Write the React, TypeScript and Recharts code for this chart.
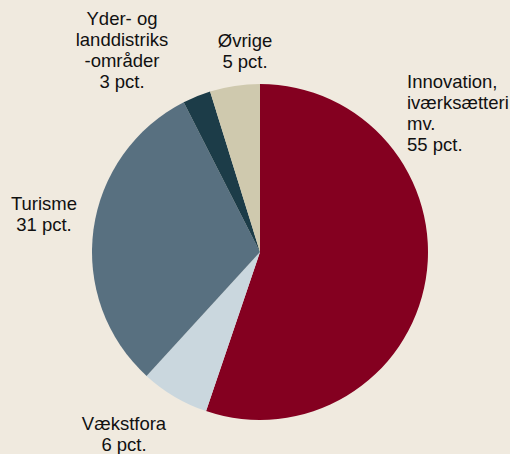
import React from "react";
import { PieChart, Pie, Cell } from "recharts";

const categories = [
  "Innovation, iværksætteri mv.",
  "Vækstfora",
  "Turisme",
  "Yder- og landdistriksområder",
  "Øvrige",
];
const shares = [55.2, 6.6, 30.7, 2.7, 4.8];
const labelLines: string[][] = [
  ["Innovation,", "iværksætteri", "mv.", "55 pct."],
  ["Vækstfora", "6 pct."],
  ["Turisme", "31 pct."],
  ["Yder- og", "landdistriks", "-områder", "3 pct."],
  ["Øvrige", "5 pct."],
];
const colors = ["#840020", "#CAD7DE", "#587080", "#1C3C48", "#CFC9AE"];

const data = categories.map((name, i) => ({ name, value: shares[i] }));

// label anchor offsets relative to pie centre (first baseline), and text anchor
const labelLayout = [
  { dx: 147, dy: -164, anchor: "start" },
  { dx: -136, dy: 178, anchor: "middle" },
  { dx: -216, dy: -42, anchor: "middle" },
  { dx: -138, dy: -227, anchor: "middle" },
  { dx: -15, dy: -205, anchor: "middle" },
];

const renderLabel = (props: any) => {
  const { cx, cy, index } = props;
  const l = labelLayout[index];
  const lines = labelLines[index];
  return (
    <text
      x={cx + l.dx}
      y={cy + l.dy}
      textAnchor={l.anchor}
      fontFamily="Liberation Sans, Arial, sans-serif"
      fontSize={18.5}
      fill="#111"
    >
      {lines.map((t, i) => (
        <tspan key={i} x={cx + l.dx} dy={i === 0 ? 0 : 21}>
          {t}
        </tspan>
      ))}
    </text>
  );
};

export default function App() {
  return (
    <div
      style={{
        position: "absolute",
        left: 0,
        top: 0,
        width: 510,
        height: 454,
        background: "#F0EADF",
        overflow: "hidden",
      }}
    >
      <PieChart width={510} height={454} margin={{ top: 0, right: 0, bottom: 0, left: 0 }}>
        <Pie
          data={data}
          dataKey="value"
          nameKey="name"
          cx={260}
          cy={252}
          outerRadius={168}
          startAngle={90}
          endAngle={-270}
          stroke="none"
          label={renderLabel}
          labelLine={false}
          isAnimationActive={false}
        >
          {data.map((d, i) => (
            <Cell key={d.name} fill={colors[i]} />
          ))}
        </Pie>
      </PieChart>
    </div>
  );
}
